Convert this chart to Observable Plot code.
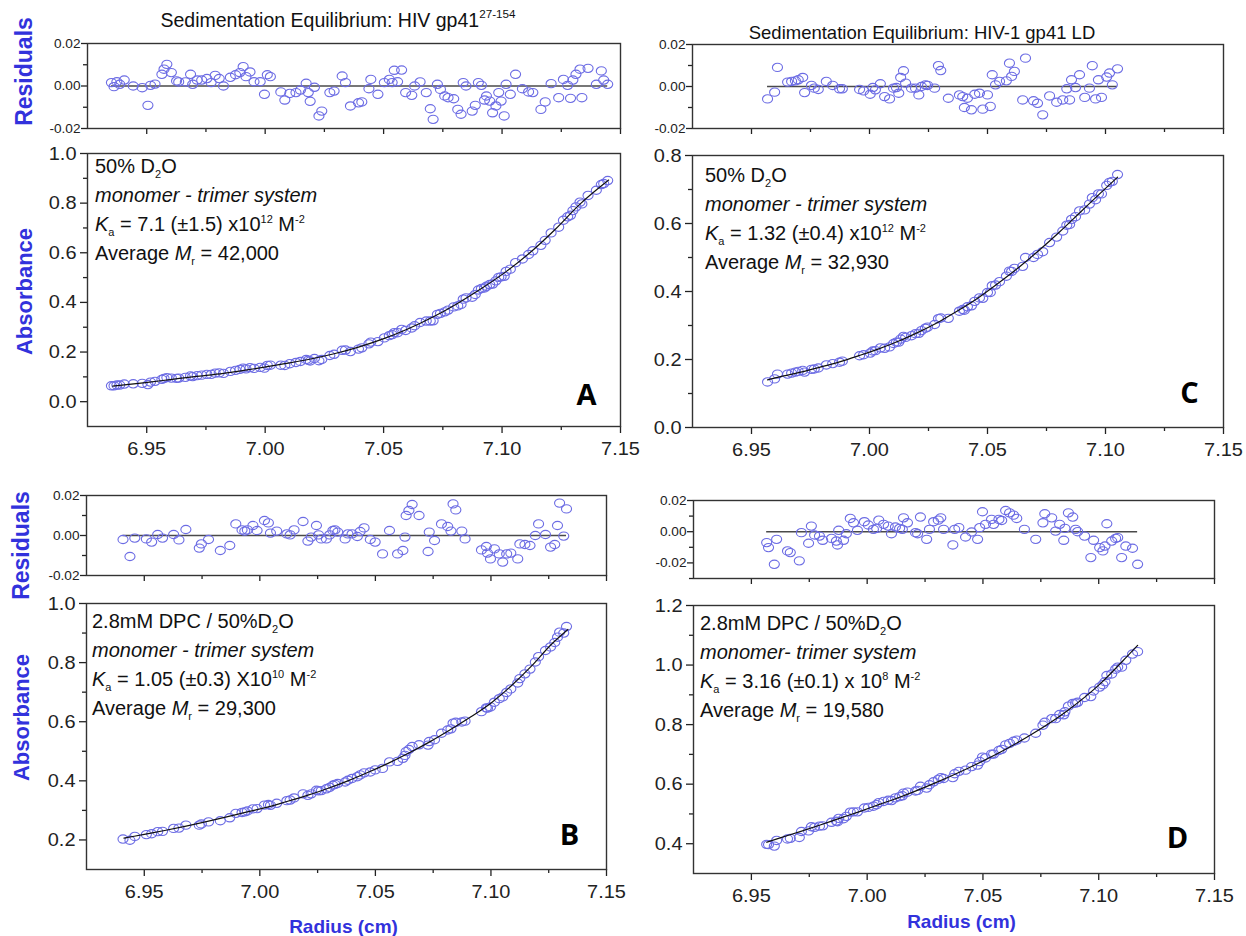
<!DOCTYPE html>
<html><head><meta charset="utf-8">
<script src="https://cdn.jsdelivr.net/npm/d3@7"></script>
<script src="https://cdn.jsdelivr.net/npm/@observablehq/plot@0.6"></script>
<style>
html,body{margin:0;padding:0;background:#fff;}
#fig{position:relative;width:1246px;height:936px;overflow:hidden;background:#fff;font-family:"Liberation Sans",Arial,Helvetica,sans-serif;color:#111;}
.holder{position:absolute;}
.holder svg{display:block;overflow:visible;}
.title{position:absolute;white-space:nowrap;text-align:center;color:#111;transform-origin:50% 50%;}
.title sup{font-size:0.6em;line-height:0;vertical-align:0.75em;}
.note{position:absolute;font-size:20px;line-height:29px;white-space:nowrap;color:#111;}
.note sub,.note sup{font-size:11px;line-height:0;}
</style></head><body><div id="fig"></div><script>
// ---------------- data ----------------
const xTicks = [6.95, 7.00, 7.05, 7.10, 7.15];
const xMinorTicks = [6.975, 7.025, 7.075, 7.125];
const resTicks = [-0.02, 0.00, 0.02];
const resMinorTicks = [-0.01, 0.01];
const resMinorTicksD = [-0.03, -0.01, 0.01];
const absTicksA = [0.0, 0.2, 0.4, 0.6, 0.8, 1.0];
const absMinorA = [0.1, 0.3, 0.5, 0.7, 0.9];
const absTicksC = [0.0, 0.2, 0.4, 0.6, 0.8];
const absMinorC = [0.1, 0.3, 0.5, 0.7];
const absTicksB = [0.2, 0.4, 0.6, 0.8, 1.0];
const absMinorB = [0.3, 0.5, 0.7, 0.9];
const absTicksD = [0.4, 0.6, 0.8, 1.0, 1.2];
const absMinorD = [0.5, 0.7, 0.9, 1.1];

// Panel A
const radiusA = [6.9351,6.9362,6.9374,6.9386,6.9405,6.9443,6.9481,6.9505,6.9516,6.9535,
6.9564,6.9573,6.9585,6.9604,6.9626,6.9635,6.9663,6.9685,6.9694,6.9713,
6.9732,6.9754,6.9772,6.9789,6.9806,6.9824,6.9853,6.9875,6.9893,6.9907,
6.9919,6.9936,6.9953,6.9979,6.9997,7.0009,7.0022,7.0066,7.0083,7.0104,
7.0130,7.0149,7.0173,7.0182,7.0190,7.0208,7.0227,7.0239,7.0273,7.0291,
7.0325,7.0339,7.0360,7.0394,7.0408,7.0438,7.0446,7.0476,7.0503,7.0524,
7.0536,7.0545,7.0559,7.0576,7.0593,7.0619,7.0631,7.0654,7.0680,7.0697,
7.0709,7.0727,7.0740,7.0758,7.0772,7.0796,7.0813,7.0827,7.0836,7.0848,
7.0874,7.0887,7.0900,7.0913,7.0926,7.0934,7.0948,7.0960,7.0974,7.0986,
7.0996,7.1009,7.1017,7.1035,7.1057,7.1086,7.1112,7.1130,7.1164,7.1182,
7.1207,7.1239,7.1259,7.1277,7.1289,7.1299,7.1312,7.1329,7.1337,7.1363,
7.1398,7.1419,7.1429,7.1446];
const residA = [0.0016,-0.0003,0.0020,0.0008,0.0028,0.0000,-0.0008,-0.0091,0.0003,0.0009,
0.0055,0.0079,0.0102,0.0063,0.0024,0.0019,0.0019,0.0055,0.0008,0.0028,
0.0028,0.0035,0.0016,0.0050,0.0035,0.0000,0.0041,0.0053,0.0063,0.0091,
0.0044,0.0066,0.0020,0.0020,-0.0039,0.0053,0.0044,-0.0028,-0.0066,-0.0035,
-0.0031,-0.0019,0.0013,-0.0031,-0.0072,-0.0006,-0.0141,-0.0118,-0.0031,-0.0024,
0.0047,0.0016,-0.0094,-0.0079,-0.0075,-0.0013,0.0031,-0.0039,0.0016,0.0031,
0.0016,0.0074,0.0020,0.0075,-0.0031,-0.0044,0.0000,0.0019,-0.0031,-0.0107,
-0.0157,0.0008,-0.0016,-0.0047,-0.0055,-0.0060,-0.0110,-0.0133,0.0016,0.0000,
-0.0118,-0.0091,0.0016,0.0003,-0.0066,-0.0047,-0.0071,-0.0126,-0.0094,-0.0031,
-0.0071,-0.0141,0.0008,-0.0039,0.0055,-0.0013,-0.0028,-0.0031,-0.0110,-0.0075,
0.0011,-0.0055,0.0031,0.0003,-0.0058,0.0028,0.0055,0.0079,-0.0055,0.0083,
0.0008,0.0071,0.0028,0.0008];
const absA = [0.064,0.064,0.067,0.067,0.071,0.072,0.074,0.069,0.079,0.082,
0.090,0.094,0.097,0.095,0.094,0.095,0.098,0.104,0.101,0.105,
0.107,0.110,0.110,0.115,0.116,0.114,0.122,0.126,0.130,0.135,
0.132,0.137,0.134,0.138,0.135,0.146,0.147,0.147,0.146,0.153,
0.158,0.162,0.170,0.167,0.164,0.174,0.165,0.170,0.186,0.191,
0.207,0.208,0.202,0.212,0.217,0.233,0.240,0.242,0.257,0.266,
0.270,0.278,0.278,0.291,0.287,0.297,0.306,0.319,0.325,0.325,
0.326,0.352,0.356,0.362,0.369,0.382,0.386,0.392,0.413,0.418,
0.421,0.432,0.450,0.456,0.458,0.465,0.472,0.474,0.487,0.501,
0.503,0.505,0.525,0.534,0.560,0.575,0.593,0.608,0.630,0.650,
0.680,0.703,0.731,0.745,0.751,0.770,0.785,0.804,0.797,0.831,
0.852,0.875,0.879,0.891];
const fitRadiusA = [6.9356,6.9495,6.9599,6.9702,6.9824,6.9910,6.9997,7.0083,7.0187,7.0291,7.0394,7.0498,7.0602,7.0706,7.0810,7.0913,7.1017,7.1121,7.1225,7.1329,7.1450];
const fitAbsA = [0.063,0.077,0.089,0.101,0.114,0.126,0.139,0.153,0.171,0.193,0.220,0.253,0.293,0.340,0.395,0.456,0.524,0.603,0.695,0.796,0.893];

// Panel C
const radiusC = [6.9568,6.9598,6.9610,6.9653,6.9670,6.9686,6.9698,6.9717,6.9725,6.9754,
6.9766,6.9783,6.9817,6.9844,6.9873,6.9885,6.9958,6.9975,7.0003,7.0014,
7.0025,7.0046,7.0064,7.0085,7.0102,7.0114,7.0124,7.0132,7.0144,7.0153,
7.0178,7.0195,7.0209,7.0220,7.0237,7.0246,7.0276,7.0292,7.0302,7.0334,
7.0381,7.0395,7.0402,7.0415,7.0432,7.0446,7.0466,7.0480,7.0500,7.0512,
7.0520,7.0534,7.0551,7.0580,7.0593,7.0602,7.0614,7.0649,7.0661,7.0695,
7.0712,7.0734,7.0763,7.0793,7.0819,7.0836,7.0848,7.0856,7.0873,7.0890,
7.0912,7.0932,7.0944,7.0958,7.0970,7.0983,7.1005,7.1017,7.1029,7.1051];
const residC = [-0.0059,-0.0027,0.0091,0.0021,0.0024,0.0027,0.0032,0.0043,-0.0029,0.0005,
-0.0008,-0.0014,0.0024,0.0005,-0.0011,-0.0011,-0.0014,-0.0021,-0.0037,-0.0005,
-0.0016,0.0013,-0.0048,-0.0059,-0.0008,-0.0005,-0.0032,0.0043,0.0075,0.0016,
-0.0008,-0.0008,-0.0040,0.0000,0.0008,0.0005,-0.0008,0.0099,0.0076,-0.0056,
-0.0040,-0.0048,-0.0100,-0.0056,-0.0111,-0.0037,-0.0032,-0.0108,-0.0040,-0.0095,
0.0056,0.0008,0.0024,0.0027,0.0111,0.0048,0.0072,-0.0064,0.0135,-0.0068,
-0.0080,-0.0135,-0.0045,-0.0075,-0.0064,-0.0011,-0.0064,0.0032,-0.0005,0.0056,
-0.0052,-0.0008,0.0099,-0.0059,0.0032,-0.0052,0.0045,0.0064,0.0008,0.0084];
const absC = [0.134,0.143,0.157,0.157,0.160,0.163,0.165,0.168,0.163,0.171,
0.172,0.175,0.184,0.188,0.192,0.195,0.211,0.214,0.219,0.225,
0.226,0.234,0.233,0.237,0.247,0.251,0.251,0.260,0.268,0.265,
0.270,0.276,0.277,0.285,0.292,0.295,0.303,0.320,0.322,0.321,
0.342,0.347,0.345,0.355,0.358,0.371,0.381,0.380,0.397,0.397,
0.417,0.419,0.429,0.445,0.460,0.459,0.468,0.474,0.500,0.500,
0.509,0.517,0.544,0.560,0.578,0.595,0.597,0.612,0.620,0.637,
0.640,0.657,0.676,0.670,0.687,0.687,0.712,0.721,0.724,0.744];
const fitRadiusC = [6.9568,6.9619,6.9703,6.9788,6.9873,6.9958,7.0042,7.0127,7.0212,7.0297,7.0381,7.0466,7.0551,7.0636,7.0720,7.0805,7.0890,7.0975,7.1051];
const fitAbsC = [0.140,0.149,0.162,0.177,0.193,0.212,0.232,0.255,0.282,0.312,0.346,0.384,0.427,0.473,0.522,0.575,0.631,0.687,0.736];

// Panel B
const radiusB = [6.9408,6.9438,6.9459,6.9509,6.9532,6.9558,6.9579,6.9627,6.9650,6.9680,
6.9738,6.9747,6.9778,6.9829,6.9870,6.9896,6.9923,6.9935,6.9946,6.9970,
6.9988,7.0020,7.0037,7.0046,7.0073,7.0117,7.0131,7.0148,7.0187,7.0208,
7.0222,7.0245,7.0254,7.0266,7.0288,7.0302,7.0316,7.0325,7.0337,7.0369,
7.0381,7.0399,7.0422,7.0434,7.0451,7.0478,7.0499,7.0531,7.0561,7.0596,
7.0619,7.0628,7.0633,7.0645,7.0659,7.0689,7.0728,7.0733,7.0756,7.0786,
7.0813,7.0827,7.0836,7.0848,7.0874,7.0888,7.0959,7.0980,7.0985,7.0998,
7.1015,7.1036,7.1051,7.1068,7.1086,7.1116,7.1125,7.1147,7.1169,7.1192,
7.1206,7.1236,7.1258,7.1276,7.1288,7.1297,7.1315,7.1327];
const residB = [-0.0020,-0.0105,-0.0013,-0.0017,-0.0033,0.0005,-0.0013,0.0005,-0.0022,0.0030,
-0.0063,-0.0042,-0.0020,-0.0075,-0.0050,0.0058,0.0028,0.0022,0.0028,0.0050,
0.0025,0.0075,0.0063,0.0012,0.0022,0.0008,0.0003,0.0028,0.0070,-0.0028,
-0.0008,0.0050,0.0003,-0.0017,-0.0017,0.0003,0.0025,0.0028,0.0017,-0.0017,
0.0008,0.0008,-0.0005,0.0020,0.0038,-0.0020,-0.0033,-0.0092,0.0025,-0.0092,
-0.0075,-0.0008,0.0100,0.0125,0.0155,0.0100,-0.0080,0.0017,-0.0025,0.0058,
0.0045,0.0022,0.0158,0.0128,0.0022,-0.0017,-0.0072,-0.0055,-0.0088,-0.0117,
-0.0067,-0.0092,-0.0133,-0.0092,-0.0088,-0.0117,-0.0042,-0.0045,-0.0050,0.0000,
0.0058,0.0005,-0.0058,-0.0045,0.0050,0.0162,-0.0003,0.0133];
const absB = [0.203,0.199,0.212,0.218,0.221,0.228,0.229,0.239,0.240,0.250,
0.250,0.254,0.261,0.265,0.275,0.290,0.293,0.295,0.298,0.305,
0.306,0.318,0.320,0.317,0.324,0.333,0.335,0.342,0.356,0.351,
0.356,0.368,0.366,0.367,0.373,0.378,0.385,0.388,0.391,0.396,
0.402,0.408,0.414,0.420,0.427,0.430,0.437,0.442,0.464,0.466,
0.476,0.486,0.499,0.506,0.516,0.522,0.521,0.533,0.539,0.561,
0.572,0.576,0.595,0.598,0.599,0.602,0.634,0.647,0.646,0.650,
0.666,0.678,0.684,0.699,0.711,0.731,0.746,0.762,0.778,0.802,
0.820,0.841,0.853,0.868,0.886,0.903,0.900,0.922];
const fitRadiusB = [6.9412,6.9500,6.9588,6.9676,6.9764,6.9852,6.9941,7.0029,7.0117,7.0205,7.0293,7.0381,7.0469,7.0557,7.0645,7.0733,7.0822,7.0910,7.0998,7.1086,7.1174,7.1262,7.1333];
const fitAbsB = [0.206,0.219,0.232,0.246,0.261,0.277,0.294,0.310,0.330,0.351,0.374,0.400,0.429,0.460,0.494,0.531,0.572,0.615,0.662,0.720,0.787,0.862,0.912];

// Panel D
const radiusD = [6.9566,6.9574,6.9599,6.9609,6.9656,6.9668,6.9707,6.9716,6.9747,6.9759,
6.9773,6.9794,6.9808,6.9846,6.9867,6.9872,6.9877,6.9898,6.9910,6.9927,
6.9941,6.9958,6.9988,7.0005,7.0027,7.0041,7.0050,7.0071,7.0091,7.0105,
7.0122,7.0140,7.0152,7.0157,7.0174,7.0209,7.0218,7.0230,7.0257,7.0269,
7.0287,7.0307,7.0318,7.0330,7.0370,7.0378,7.0396,7.0425,7.0451,7.0477,
7.0486,7.0498,7.0511,7.0537,7.0546,7.0569,7.0581,7.0598,7.0615,7.0632,
7.0646,7.0679,7.0728,7.0759,7.0767,7.0797,7.0814,7.0831,7.0849,7.0854,
7.0869,7.0888,7.0900,7.0909,7.0939,7.0966,7.0978,7.1004,7.1018,7.1027,
7.1035,7.1056,7.1073,7.1082,7.1099,7.1117,7.1146,7.1168];
const residD = [-0.0070,-0.0102,-0.0209,-0.0049,-0.0123,-0.0134,-0.0187,-0.0006,-0.0074,0.0036,
-0.0021,-0.0028,-0.0055,-0.0043,-0.0060,-0.0085,0.0009,-0.0055,-0.0013,0.0085,
0.0057,0.0009,0.0064,0.0043,0.0015,0.0021,0.0074,0.0047,0.0036,-0.0013,
0.0030,0.0021,0.0015,0.0089,0.0057,-0.0006,-0.0013,0.0094,-0.0049,0.0015,
0.0064,0.0074,0.0089,0.0015,-0.0085,0.0015,0.0026,-0.0034,-0.0002,-0.0049,
0.0026,0.0128,0.0047,0.0079,0.0047,0.0079,0.0072,0.0136,0.0121,0.0106,
0.0085,0.0015,-0.0049,0.0057,0.0115,0.0089,0.0004,0.0047,-0.0055,0.0021,
0.0121,0.0094,0.0015,0.0000,-0.0028,-0.0166,-0.0055,-0.0102,-0.0123,-0.0092,
0.0051,-0.0060,-0.0043,-0.0038,-0.0166,-0.0092,-0.0106,-0.0209];
const absD = [0.398,0.397,0.392,0.411,0.416,0.418,0.421,0.441,0.443,0.457,
0.455,0.459,0.460,0.472,0.476,0.474,0.485,0.484,0.492,0.506,
0.507,0.507,0.520,0.522,0.526,0.531,0.538,0.542,0.546,0.545,
0.554,0.558,0.561,0.570,0.573,0.577,0.579,0.593,0.587,0.598,
0.608,0.616,0.622,0.619,0.622,0.635,0.643,0.647,0.659,0.664,
0.676,0.691,0.688,0.701,0.701,0.713,0.717,0.732,0.737,0.744,
0.748,0.755,0.771,0.798,0.808,0.820,0.820,0.834,0.833,0.843,
0.862,0.871,0.872,0.875,0.891,0.894,0.913,0.926,0.934,0.944,
0.965,0.970,0.986,0.993,0.993,1.016,1.037,1.045];
const fitRadiusD = [6.9566,6.9621,6.9707,6.9794,6.9880,6.9967,7.0053,7.0140,7.0284,7.0431,7.0574,7.0716,7.0863,7.1006,7.1136,7.1168];
const fitAbsD = [0.405,0.419,0.440,0.462,0.485,0.508,0.532,0.556,0.601,0.652,0.707,0.770,0.846,0.937,1.040,1.066];

// ---------------- drawing ----------------
const BLUE = "#3232dc";
const DOT = "#6c6ce4";
const SX_TICK = 1.05;
const fig = document.getElementById("fig");

const ellipse = {draw(ctx, size) {
  const r = Math.sqrt(size / Math.PI), rx = r * 1.12, ry = r * 0.92, k = 0.5523;
  ctx.moveTo(rx, 0);
  ctx.bezierCurveTo(rx, ry * k, rx * k, ry, 0, ry);
  ctx.bezierCurveTo(-rx * k, ry, -rx, ry * k, -rx, 0);
  ctx.bezierCurveTo(-rx, -ry * k, -rx * k, -ry, 0, -ry);
  ctx.bezierCurveTo(rx * k, -ry, rx, -ry * k, rx, 0);
  ctx.closePath();
}};

function stretchEl(t, sx, sy) {
  let tr = t.getAttribute("transform") || "";
  const x = t.getAttribute("x");
  if (x != null && !/em$/.test(x)) { tr += ` translate(${x},0)`; t.removeAttribute("x"); }
  t.setAttribute("transform", tr + ` scale(${sx},${sy})`);
}

function panel(p) {
  const mL = 80, mR = 15, mT = 15, mB = p.mB;
  const width = p.frame.r - p.frame.l + mL + mR;
  const height = p.frame.b - p.frame.t + mT + mB;
  const pts = p.x.map((x, i) => ({x, y: p.y[i]}));
  const fmtY = p.residual ? (d => d.toFixed(2)) : (d => d.toFixed(1));
  const marks = [];
  if (p.residual) marks.push(Plot.ruleY([0], {x1: d3.min(p.x), x2: d3.max(p.x), stroke: "#4a4a4a", strokeWidth: 1.6}));
  marks.push(Plot.dot(pts, {x: "x", y: "y", r: 4.5, symbol: ellipse, fill: "none", stroke: DOT, strokeWidth: 1.1}));
  if (p.fitX) marks.push(Plot.line(p.fitX.map((x, i) => ({x, y: p.fitY[i]})), {x: "x", y: "y", curve: "monotone-x", stroke: "#111", strokeWidth: 1.2}));
  const tMaj = p.residual ? 6 : 7, tMin = 4;
  marks.push(
    Plot.axisX({ticks: xTicks, tickSize: tMaj, tickPadding: p.showX ? 8 : 0, tickFormat: p.showX ? (d => d.toFixed(2)) : (() => ""), label: null, strokeWidth: 1.3}),
    Plot.axisX({ticks: xMinorTicks, tickSize: tMin, tickFormat: () => "", label: null, strokeWidth: 1.3}),
    Plot.axisY({ticks: p.yMajor, tickSize: tMaj, tickPadding: p.residual ? 1 : 4, tickFormat: fmtY, label: null, strokeWidth: 1.3}),
    Plot.axisY({ticks: p.yMinor, tickSize: tMin, tickFormat: () => "", label: null, strokeWidth: 1.3}),
    Plot.frame({stroke: "#333", strokeWidth: 1.4})
  );
  if (p.yLabel) marks.push(Plot.text([p.yLabel], {frameAnchor: "left", dx: p.yLabelX - p.frame.l, dy: p.yLabelY - (p.frame.t + p.frame.b) / 2, rotate: -90, textAnchor: "middle", lineAnchor: "middle", fill: BLUE, fontWeight: "bold", fontSize: p.yLabelSize || 22, ariaLabel: "ylab"}));
  if (p.xLabel) marks.push(Plot.text([p.xLabel], {frameAnchor: "bottom", dx: p.xLabelX - (p.frame.l + p.frame.r) / 2, dy: p.xLabelY - p.frame.b, textAnchor: "middle", lineAnchor: "middle", fill: BLUE, fontWeight: "bold", fontSize: 19, ariaLabel: "xlab"}));
  if (p.letter) marks.push(Plot.text([p.letter], {frameAnchor: "bottom-right", dx: p.letterX - p.frame.r, dy: p.letterY - p.frame.b, textAnchor: "middle", lineAnchor: "middle", fill: "#000", fontWeight: "bold", fontSize: 29, fontFamily: "Open Sans, Liberation Sans, Arial, sans-serif", ariaLabel: "letter"}));

  const svg = Plot.plot({
    width, height, marginLeft: mL, marginRight: mR, marginTop: mT, marginBottom: mB,
    x: {domain: [6.925, 7.15]},
    y: {domain: p.yDomain},
    style: {background: "none", overflow: "visible", color: "#222", fontSize: p.residual ? "13px" : "19px", fontFamily: "Liberation Sans, Arial, Helvetica, sans-serif"},
    marks
  });
  svg.querySelectorAll('g[aria-label$="tick label"] text').forEach(t => stretchEl(t, SX_TICK, 1));
  svg.querySelectorAll('g[aria-label="letter"] text').forEach(t => stretchEl(t, 1.1, 1));
  svg.querySelectorAll('g[aria-label="ylab"] text').forEach(t => stretchEl(t, 1, 1.12));
  const holder = document.createElement("div");
  holder.className = "holder";
  holder.style.left = (p.frame.l - mL) + "px";
  holder.style.top = (p.frame.t - mT) + "px";
  holder.style.width = width + "px";
  holder.appendChild(svg);
  fig.appendChild(holder);
}

const panels = [
  {frame: {l: 87, r: 620, t: 43, b: 128}, yDomain: [-0.02, 0.02], yMajor: resTicks, yMinor: resMinorTicks, x: radiusA, y: residA, residual: true, mB: 15, yLabel: "Residuals", yLabelX: 24, yLabelY: 71, yLabelSize: 23},
  {frame: {l: 87, r: 620, t: 153, b: 426}, yDomain: [-0.1, 1.0], yMajor: absTicksA, yMinor: absMinorA, x: radiusA, y: absA, fitX: fitRadiusA, fitY: fitAbsA, showX: true, mB: 45, yLabel: "Absorbance", yLabelX: 24, yLabelY: 291, letter: "A", letterX: 586, letterY: 395},
  {frame: {l: 692, r: 1223, t: 44, b: 128}, yDomain: [-0.02, 0.02], yMajor: resTicks, yMinor: resMinorTicks, x: radiusC, y: residC, residual: true, mB: 15},
  {frame: {l: 692, r: 1223, t: 155, b: 427}, yDomain: [0, 0.8], yMajor: absTicksC, yMinor: absMinorC, x: radiusC, y: absC, fitX: fitRadiusC, fitY: fitAbsC, showX: true, mB: 45, letter: "C", letterX: 1189, letterY: 393},
  {frame: {l: 86, r: 606, t: 495, b: 575}, yDomain: [-0.02, 0.02], yMajor: resTicks, yMinor: resMinorTicks, x: radiusB, y: residB, residual: true, mB: 15, yLabel: "Residuals", yLabelX: 21, yLabelY: 545, yLabelSize: 23},
  {frame: {l: 86, r: 606, t: 603, b: 869}, yDomain: [0.1, 1.0], yMajor: absTicksB, yMinor: absMinorB, x: radiusB, y: absB, fitX: fitRadiusB, fitY: fitAbsB, showX: true, mB: 75, yLabel: "Absorbance", yLabelX: 21, yLabelY: 717, xLabel: "Radius (cm)", xLabelX: 343, xLabelY: 926, letter: "B", letterX: 569, letterY: 835},
  {frame: {l: 693, r: 1214, t: 500, b: 578}, yDomain: [-0.03, 0.02], yMajor: resTicks, yMinor: resMinorTicksD, x: radiusD, y: residD, residual: true, mB: 15},
  {frame: {l: 693, r: 1214, t: 605, b: 873}, yDomain: [0.3, 1.2], yMajor: absTicksD, yMinor: absMinorD, x: radiusD, y: absD, fitX: fitRadiusD, fitY: fitAbsD, showX: true, mB: 75, xLabel: "Radius (cm)", xLabelX: 961, xLabelY: 921, letter: "D", letterX: 1177, letterY: 838}
];
panels.forEach(panel);

// titles
function addTitle(html, cx, cy, size, sx) {
  const d = document.createElement("div");
  d.className = "title";
  d.style.fontSize = size + "px";
  d.style.lineHeight = "24px";
  d.style.width = "700px";
  d.style.left = (cx - 350) + "px";
  d.style.top = (cy - 12) + "px";
  d.style.transform = `scaleX(${sx})`;
  d.innerHTML = html;
  fig.appendChild(d);
}
addTitle("Sedimentation Equilibrium: HIV gp41<sup>27-154</sup>", 338, 20, 19.5, 1.0);
addTitle("Sedimentation Equilibrium: HIV-1 gp41 LD", 922, 33, 18.5, 1.0);

// annotations
function addNote(lines, left, top) {
  const d = document.createElement("div");
  d.className = "note";
  d.style.left = left + "px";
  d.style.top = top + "px";
  d.innerHTML = lines.map(l => `<div>${l}</div>`).join("");
  fig.appendChild(d);
}
addNote(["50% D<sub>2</sub>O", "<i>monomer - trimer system</i>", "<i>K</i><sub>a</sub> = 7.1 (±1.5) x10<sup>12</sup> M<sup>-2</sup>", "Average <i>M</i><sub>r</sub> = 42,000"], 95, 152);
addNote(["50% D<sub>2</sub>O", "<i>monomer - trimer system</i>", "<i>K</i><sub>a</sub> = 1.32 (±0.4) x10<sup>12</sup> M<sup>-2</sup>", "Average <i>M</i><sub>r</sub> = 32,930"], 705, 161);
addNote(["2.8mM DPC / 50%D<sub>2</sub>O", "<i>monomer - trimer system</i>", "<i>K</i><sub>a</sub> = 1.05 (±0.3) X10<sup>10</sup> M<sup>-2</sup>", "Average <i>M</i><sub>r</sub> = 29,300"], 92, 607);
addNote(["2.8mM DPC / 50%D<sub>2</sub>O", "<i>monomer- trimer system</i>", "<i>K</i><sub>a</sub> = 3.16 (±0.1) x 10<sup>8</sup> M<sup>-2</sup>", "Average <i>M</i><sub>r</sub> = 19,580"], 700, 609);
</script></body></html>
